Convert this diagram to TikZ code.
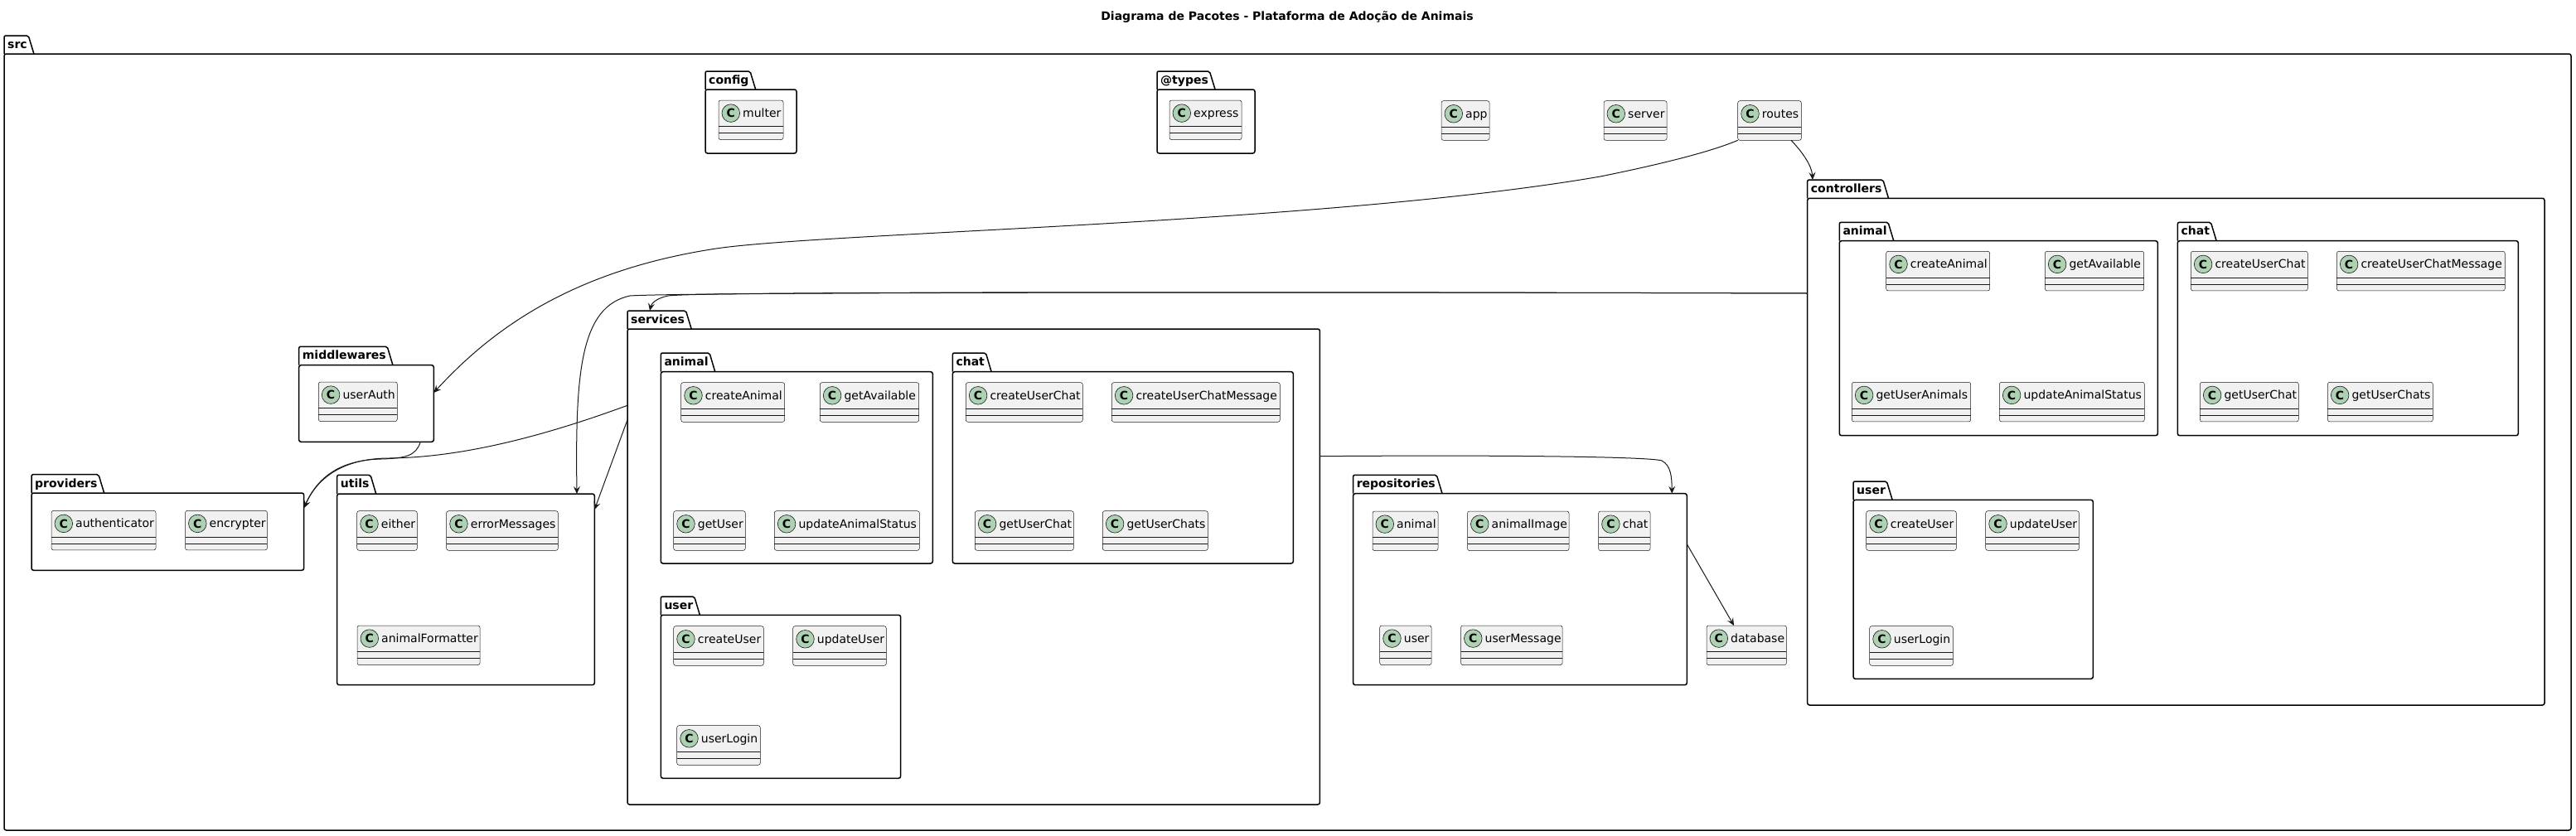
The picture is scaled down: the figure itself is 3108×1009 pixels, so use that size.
\documentclass[tikz,border=0pt]{standalone}
\usepackage{fontspec}
\setmainfont{DejaVu Sans}
\usetikzlibrary{arrows.meta,calc}
\definecolor{clsfill}{HTML}{F1F1F1}
\definecolor{clsline}{HTML}{181818}
\definecolor{spotfill}{HTML}{ADD1B2}
\tikzset{
 clsbox/.style={draw=clsline, fill=clsfill, line width=0.5pt, rounded corners=2.5pt, inner sep=0pt, outer sep=0pt},
 clssep/.style={draw=clsline, line width=0.5pt},
 spot/.style={circle, draw=clsline, fill=spotfill, line width=0.6pt, minimum size=21.6pt, inner sep=0pt, font=\fontsize{14}{14}\selectfont\bfseries},
 clslabel/.style={inner sep=0pt, font=\fontsize{14}{16}\selectfont, text=black},
 pkgbody/.style={draw=black, line width=1.5pt, rounded corners=2.5pt, inner sep=0pt, outer sep=0pt},
 pkgline/.style={draw=black, line width=1.5pt, rounded corners=2pt},
 pkglabel/.style={inner sep=0pt, font=\fontsize{14}{16}\selectfont\bfseries},
 dep/.style={draw=clsline, line width=1pt, -{Stealth[length=9pt,width=8pt,inset=3.5pt]}},
 titlestyle/.style={inner sep=0pt, font=\fontsize{14}{16}\selectfont\bfseries},
}
\newcommand\pkg[7]{%
  \pgfmathsetmacro\pkgw{#5-#2}%
  \pgfmathsetmacro\pkgh{#6-#4}%
  \coordinate (#1-tl) at (#2,#3);
  \node[pkgbody, anchor=north west, minimum width=\pkgw pt, minimum height=\pkgh pt] (#1) at (#2,#4) {};
  \node[pkglabel, anchor=base west] (#1-l) at ($(#1-tl)+(4pt,-15.5pt)$) {#7};
  \draw[pkgline] (#1.north west) -- (#1-tl) -- ($(#1-l.east |- #1-tl)+(1.3pt,0)$) -- ($(#1-l.east |- #1.north)+(8pt,0)$);
}
\newcommand\cls[5]{%
  \pgfmathsetmacro\clsw{#4-#2}%
  \node[clsbox, anchor=north west, minimum width=\clsw pt, minimum height=47.6pt] (#1) at (#2,#3) {};
  \draw[clssep] ([yshift=-31.6pt]#1.north west) -- ([yshift=-31.6pt]#1.north east);
  \draw[clssep] ([yshift=-39.6pt]#1.north west) -- ([yshift=-39.6pt]#1.north east);
  \node[spot] (#1-c) at ([xshift=14.8pt,yshift=-15.6pt]#1.north west) {C};
  \node[clslabel, anchor=base west] (#1-t) at ([xshift=29pt,yshift=-20.6pt]#1.north west) {#5};
}
\begin{document}
\begin{tikzpicture}[x=1pt,y=-1pt]
\useasboundingbox (0,0) rectangle (3108,1009);
\node[titlestyle, anchor=base] (title) at (1553,24) {Diagrama de Pacotes - Plataforma de Adoção de Animais};

% packages
\pkg{src}{5}{43}{65}{3102}{1002}{src}
\pkg{config}{851}{86}{108}{961}{185}{config}
\pkg{types}{1396}{86}{108}{1514}{185}{@types}
\pkg{ctrl}{2180.7}{217}{239.3}{3070}{851}{controllers}
\pkg{ca}{2219.3}{268.3}{290.7}{2603.3}{525.7}{animal}
\pkg{cc}{2627.3}{268.3}{290.7}{3038.3}{525.7}{chat}
\pkg{cu}{2236}{581}{603.3}{2525.3}{819.3}{user}
\pkg{svc}{757}{375}{397}{1592.4}{971}{services}
\pkg{sa}{797.3}{426}{448.7}{1125.3}{680}{animal}
\pkg{sc}{1149.3}{426}{448.7}{1560.3}{680}{chat}
\pkg{su}{797.3}{720}{742.3}{1086.7}{939.3}{user}
\pkg{mw}{360.7}{418.3}{440.7}{523.3}{533.3}{middlewares}
\pkg{prov}{38}{572.7}{595}{366.7}{688.3}{providers}
\pkg{utils}{406.7}{573.3}{596}{717.3}{826.7}{utils}
\pkg{repo}{1632.6}{573.3}{595.7}{2035.3}{826.7}{repositories}

% classes
\cls{multer}{867}{121}{945}{multer}
\cls{express}{1411}{121}{1498}{express}
\cls{app}{1739}{121.7}{1797}{app}
\cls{server}{1935}{121.7}{2011}{server}
\cls{routes}{2096.7}{121.7}{2173.3}{routes}

\cls{ca1}{2275.7}{303.3}{2400.7}{createAnimal}
\cls{ca2}{2467.3}{303.3}{2586.7}{getAvailable}
\cls{ca3}{2234.3}{461.3}{2377.7}{getUserAnimals}
\cls{ca4}{2412.3}{461.3}{2587.3}{updateAnimalStatus}
\cls{cc1}{2643.3}{303.3}{2784.3}{createUserChat}
\cls{cc2}{2819.3}{303.3}{3022.3}{createUserChatMessage}
\cls{cc3}{2654.3}{461.3}{2773.3}{getUserChat}
\cls{cc4}{2808.3}{461.3}{2935.3}{getUserChats}
\cls{cu1}{2251.7}{616.7}{2360.3}{createUser}
\cls{cu2}{2395.7}{616.7}{2508.3}{updateUser}
\cls{cu3}{2255.7}{755.7}{2356.3}{userLogin}

\cls{sa1}{821.7}{461.7}{946.7}{createAnimal}
\cls{sa2}{989.3}{461.7}{1108.7}{getAvailable}
\cls{sa3}{812.7}{616.7}{899.3}{getUser}
\cls{sa4}{934.3}{616.7}{1109.3}{updateAnimalStatus}
\cls{sc1}{1165.3}{461.7}{1306.3}{createUserChat}
\cls{sc2}{1341.3}{461.7}{1544.3}{createUserChatMessage}
\cls{sc3}{1176.3}{616.7}{1295.3}{getUserChat}
\cls{sc4}{1330.3}{616.7}{1457.3}{getUserChats}
\cls{su1}{812.7}{755.7}{921.3}{createUser}
\cls{su2}{956.7}{755.7}{1069.3}{updateUser}
\cls{su3}{816.7}{875.7}{917.3}{userLogin}

\cls{userAuth}{384.3}{461}{479.3}{userAuth}
\cls{auth}{62}{616.3}{188}{authenticator}
\cls{enc}{223.5}{616.3}{322.4}{encrypter}
\cls{either}{430.7}{616.7}{503.3}{either}
\cls{errmsg}{538.7}{616.7}{673.3}{errorMessages}
\cls{animfmt}{431}{755}{579}{animalFormatter}

\cls{ranimal}{1656}{617}{1735}{animal}
\cls{rimage}{1770.5}{617}{1893}{animalImage}
\cls{rchat}{1928.6}{617}{1991}{chat}
\cls{ruser}{1664.7}{755}{1727}{user}
\cls{rmsg}{1762.5}{755}{1885}{userMessage}
\cls{db}{2059}{755}{2155.4}{database}

% dependencies
\draw[dep] ([xshift=26pt]routes.south) .. controls (2175,184) and (2186,200) .. ([xshift=6.3pt]ctrl-tl);
\draw[dep] (routes.south west) .. controls (2060,185) and (1990,201) .. (1931,213) .. controls (1600,270) and (1000,280) .. (864,300) .. controls (700,325) and (600,390) .. ([yshift=13pt]mw.east);
\draw[dep] ([yshift=-114.7pt]ctrl.north west) .. controls (1500,352) and (840,352) .. (806,357) .. controls (792,360) and (786,366) .. ([xshift=27pt]svc-tl);
\draw[dep] ([yshift=-114.7pt]ctrl.north west) .. controls (1500,352) and (820,353) .. (760,357) .. controls (700,370) and (694,450) .. ([xshift=-21.3pt]utils.north east);
\draw[dep] ([yshift=-92.3pt]svc.north west) .. controls (660,525) and (560,552) .. (470,553) .. controls (420,553) and (385,572) .. ([yshift=-18pt]prov.north east);
\draw[dep] ([xshift=-16pt]mw.south east) .. controls (502,550) and (490,553) .. (460,554) .. controls (415,555) and (385,572) .. ([yshift=-18pt]prov.north east);
\draw[dep] ([yshift=-109.7pt]svc.north west) -- ([yshift=-19pt]utils.north east);
\draw[dep] ([yshift=-153.7pt]svc.north east) .. controls (1800,549) and (1990,551) .. (2005,556) .. controls (2016,562) and (2017,575) .. ([xshift=-18pt]repo.north east);
\draw[dep] ([yshift=-61pt]repo.north east) -- ([xshift=33pt]db.north west);
\end{tikzpicture}
\end{document}
